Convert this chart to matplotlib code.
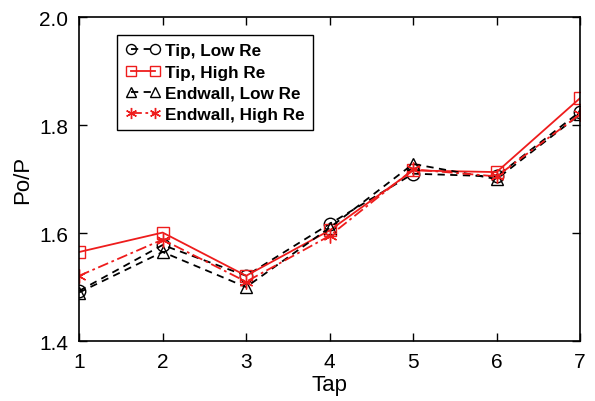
import matplotlib
matplotlib.use("Agg")
import matplotlib.pyplot as plt
import numpy as np

plt.rcParams['font.family'] = ['Liberation Sans', 'DejaVu Sans']

taps = [1, 2, 3, 4, 5, 6, 7]
tip_low = [1.493, 1.578, 1.521, 1.617, 1.710, 1.705, 1.825]
tip_high = [1.565, 1.601, 1.521, 1.605, 1.716, 1.713, 1.850]
end_low = [1.490, 1.565, 1.500, 1.610, 1.728, 1.700, 1.820]
end_high = [1.521, 1.588, 1.510, 1.595, 1.718, 1.705, 1.820]

fig = plt.figure(figsize=(5.95, 4.02), dpi=100)
ax = fig.add_axes([0.133, 0.149, 0.842, 0.806])

ax.plot(taps, tip_low, color='k', linestyle=(0, (4, 3)), linewidth=1.3,
        marker='o', markersize=9, markerfacecolor='none', markeredgewidth=1.0,
        label='Tip, Low Re')
ax.plot(taps, tip_high, color='#ee1c1c', linestyle='-', linewidth=1.3,
        marker='s', markersize=9, markerfacecolor='none', markeredgewidth=1.0,
        label='Tip, High Re')
ax.plot(taps, end_low, color='k', linestyle=(0, (4, 3)), linewidth=1.3,
        marker='^', markersize=9, markerfacecolor='none', markeredgewidth=1.0,
        label='Endwall, Low Re')
ax.plot(taps, end_high, color='#ee1c1c', linestyle=(0, (6, 2, 1.5, 2)), linewidth=1.3,
        marker=(6, 2, 0), markersize=10, markeredgewidth=1.0,
        label='Endwall, High Re')

ax.set_xlim(1, 7)
ax.set_ylim(1.4, 2.0)
ax.set_xticks(taps)
ax.set_yticks(np.arange(1.4, 2.01, 0.2))
ax.set_yticklabels(['1.4', '1.6', '1.8', '2.0'])
ax.tick_params(direction='in', top=True, right=True, length=6, width=1,
               labelsize=15, pad=8)
for s in ax.spines.values():
    s.set_linewidth(1.2)

ax.set_xlabel('Tap', fontsize=16, labelpad=2)
ax.set_ylabel('Po/P', fontsize=16, labelpad=4)

leg = ax.legend(loc='upper left', bbox_to_anchor=(0.076, 0.945), fancybox=False,
                edgecolor='k', framealpha=1, numpoints=2, markerscale=0.8,
                handlelength=2.0, handletextpad=0.3, borderpad=0.5,
                labelspacing=0.36, borderaxespad=0,
                prop={'weight': 'bold', 'size': 12.3})
leg.get_frame().set_linewidth(1.0)

fig.savefig('out.png', dpi=100)
